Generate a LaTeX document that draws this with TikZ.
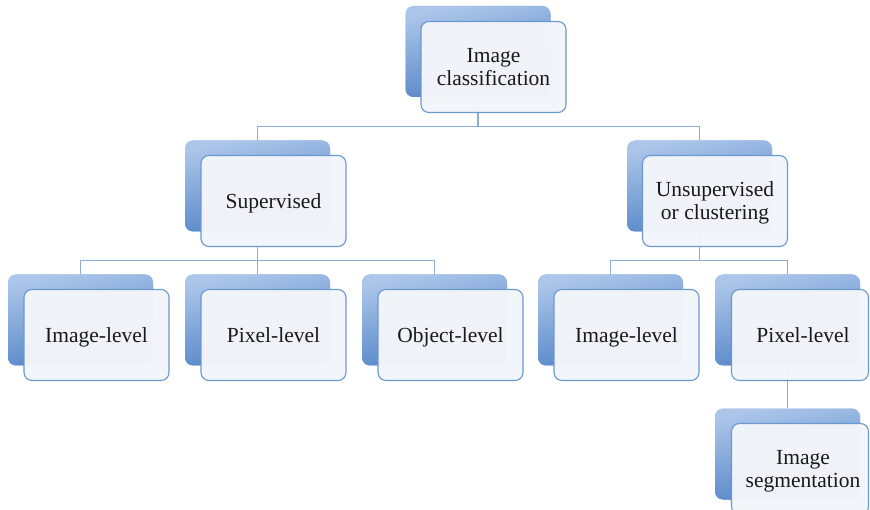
\documentclass[tikz,border=0pt]{standalone}
\usepackage{fontspec}
\setmainfont{Liberation Serif}
\usetikzlibrary{calc}
\definecolor{backtop}{RGB}{172,198,234}
\definecolor{backbot}{RGB}{78,128,196}
\definecolor{frontfill}{RGB}{242,245,250}
\definecolor{frontline}{RGB}{108,152,208}
\definecolor{connline}{RGB}{140,172,214}
\definecolor{txt}{RGB}{25,25,25}
\tikzset{
  backbox/.style={rounded corners=8pt, minimum width=145pt, minimum height=91pt,
    top color=backtop, bottom color=backbot, shading angle=12, inner sep=0pt},
  frontbox/.style={rounded corners=8pt, minimum width=145pt, minimum height=91pt,
    draw=frontline, line width=1.1pt, fill=frontfill, fill opacity=0.985, text opacity=1,
    text=txt, align=center, inner sep=2pt, text depth=0pt,
    font=\fontsize{21.5}{23}\selectfont},
  narrowbox/.style={frontbox, minimum width=137pt},
  conn/.style={draw=connline, line width=1.3pt}
}
\begin{document}
\begin{tikzpicture}[x=1pt,y=-1pt]
\useasboundingbox (0,0) rectangle (870,510);
% back box anchors
\node[backbox] (rootb) at (478,51.5) {};
\node[backbox] (supb) at (257.5,186) {};
\node[backbox] (unsb) at (699.5,186) {};
\node[backbox] (s1b) at (80.5,320) {};
\node[backbox] (s2b) at (257.5,320) {};
\node[backbox] (s3b) at (434.5,320) {};
\node[backbox] (u1b) at (610.5,320) {};
\node[backbox] (u2b) at (787.5,320) {};
\node[backbox] (segb) at (787.5,454) {};
% connector junctions
\coordinate (r1) at (rootb.center |- 0,126.5);
\coordinate (r2) at (supb.center |- 0,260.5);
\coordinate (r3) at (unsb.center |- 0,260.5);
% connectors
\draw[conn] (rootb.center) -- (r1);
\draw[conn] (supb.north) |- (r1) -| (unsb.north);
\draw[conn] (supb.center) -- (r2);
\draw[conn] (s1b.north) |- (r2) -| (s3b.north);
\draw[conn] (r2) -- (s2b.north);
\draw[conn] (unsb.center) -- (r3);
\draw[conn] (u1b.north) |- (r3) -| (u2b.north);
\draw[conn] (u2b.center) -- (segb.north);
% redraw back boxes above connectors
\foreach \b in {rootb,supb,unsb,s1b,s2b,s3b,u1b,u2b,segb}
  \node[backbox] at (\b) {};
% front boxes
\node[frontbox] (root) at (493.5,67) {Image\\classification};
\node[frontbox] (sup) at (273.5,201) {Supervised};
\node[frontbox] (uns) at (715,201) {Unsupervised\\or clustering};
\node[frontbox] (s1) at (96.5,335) {Image-level};
\node[frontbox] (s2) at (273.5,335) {Pixel-level};
\node[frontbox] (s3) at (450.5,335) {Object-level};
\node[frontbox] (u1) at (626.5,335) {Image-level};
\node[narrowbox] (u2) at (800,335) {\hspace*{6pt}Pixel-level};
\node[narrowbox] (seg) at (800,469) {\hspace*{6pt}Image\\\hspace*{6pt}segmentation};
\end{tikzpicture}
\end{document}
